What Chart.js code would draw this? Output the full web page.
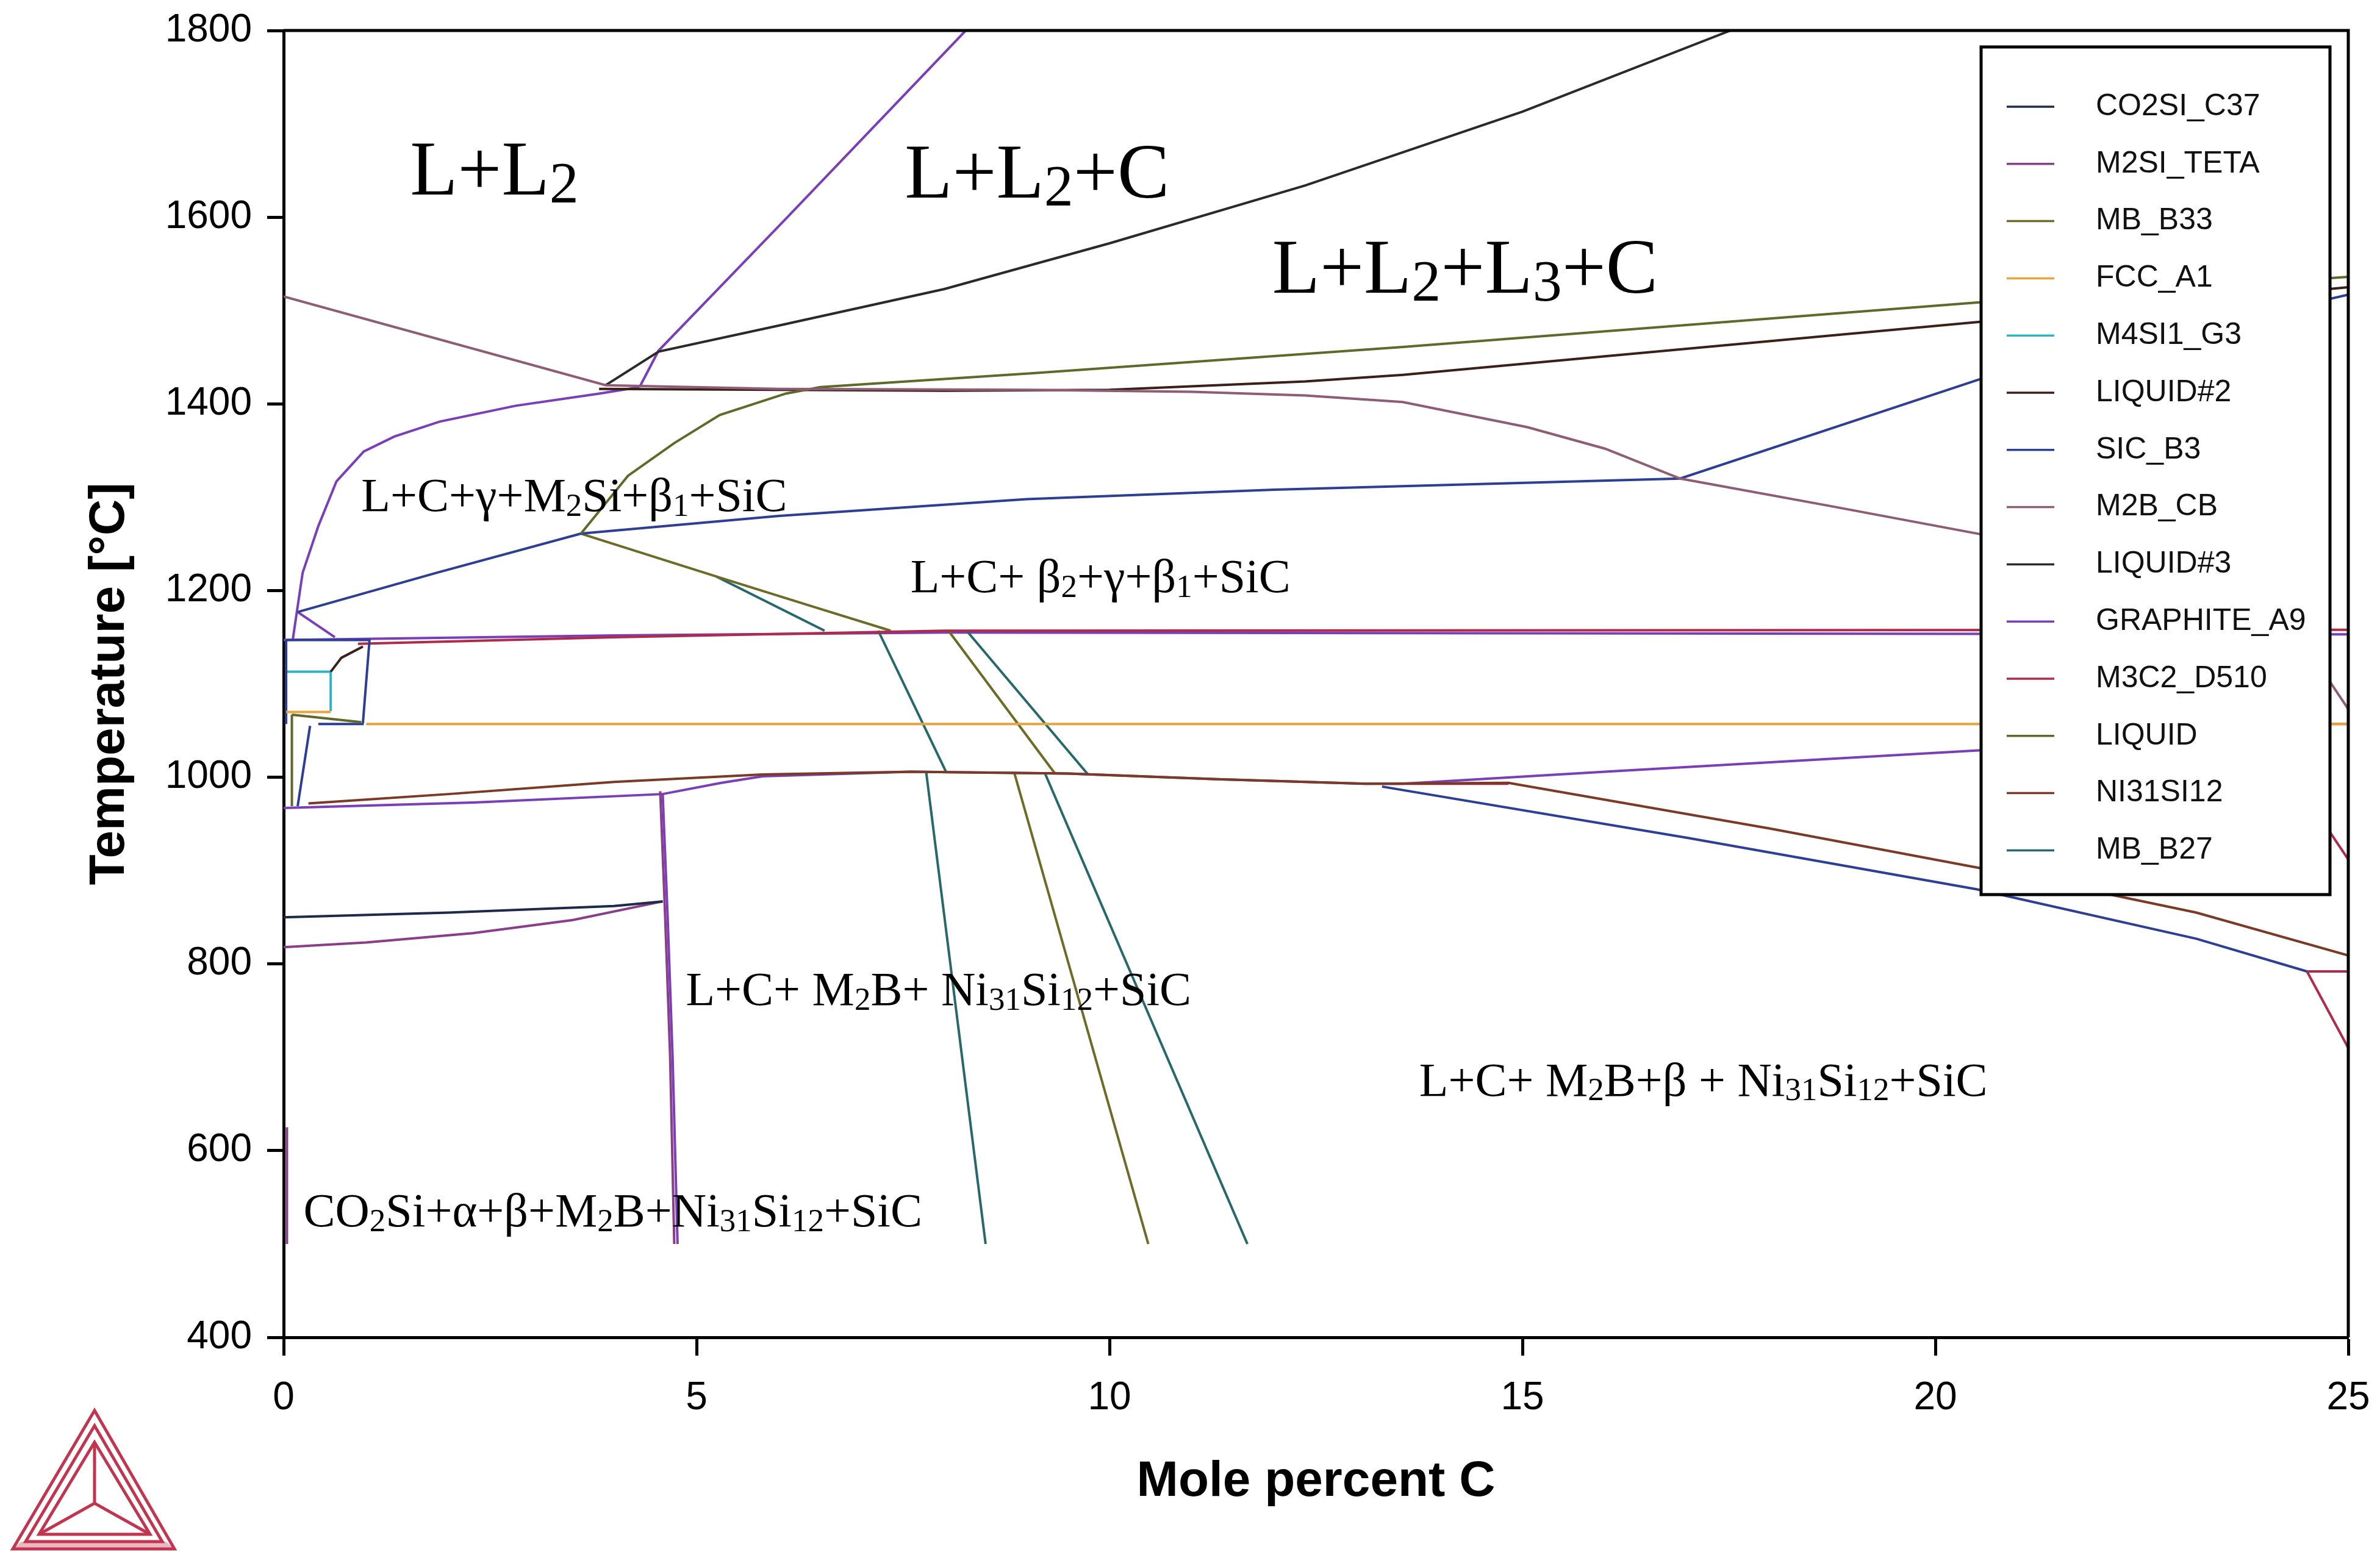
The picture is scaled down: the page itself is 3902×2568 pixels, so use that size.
<!DOCTYPE html>
<html>
<head>
<meta charset="utf-8">
<script src="https://cdn.jsdelivr.net/npm/chart.js@4.4.1/dist/chart.umd.min.js"></script>
<style>
  html, body { margin: 0; padding: 0; background: #fff; }
  canvas { display: block; }
</style>
</head>
<body>
<canvas id="phaseChart" width="3902" height="2568"></canvas>
<script>
// axis ticks
const xTicks = [0, 5, 10, 15, 20, 25];
const yTicks = [400, 600, 800, 1000, 1200, 1400, 1600, 1800];

// phase boundaries, [mole percent C, temperature °C]
// GRAPHITE_A9
const graphiteSteep = [[4.31, 1418], [4.54, 1457], [6.1, 1600], [8.26, 1800]];
const graphiteCurve = [[0.11, 1147], [0.18, 1189], [0.23, 1219], [0.42, 1269], [0.64, 1317], [0.97, 1349], [1.34, 1365], [1.89, 1381], [2.81, 1398], [3.82, 1411], [4.31, 1418]];
const graphiteShort = [[0.17, 1177], [0.62, 1150]];
const graphite1150 = [[0, 1147], [4, 1152], [8, 1155], [25, 1153]];
const graphiteLow = [[0, 967], [2.3, 973], [4.59, 982], [5.3, 994], [5.8, 1001], [7.6, 1006], [9.5, 1004], [11.3, 998], [13.1, 993], [13.55, 993], [16, 1006], [20.56, 1029], [24, 1046]];
const graphiteVert = [[4.59, 982], [4.65, 850], [4.71, 700], [4.77, 500]];
// M2SI_TETA
const m2siCurve = [[0, 818], [1, 823], [2.29, 833], [3.5, 847], [4.59, 867]];
const m2siVert = [[4.56, 985], [4.62, 850], [4.68, 700], [4.73, 500]];
// CO2SI_C37
const co2siLine = [[0, 850], [2, 855], [4, 862], [4.59, 867]];
const co2siEdge = [[0.04, 625], [0.04, 500]];
// MB_B33
const mbB33Upper = [[3.6, 1261], [5.24, 1215], [6.4, 1183], [7.35, 1157]];
const mbB33Mid = [[8.05, 1157], [9.34, 1004]];
const mbB33Low = [[8.85, 1004], [10.47, 500]];
// LIQUID
const liquidLine = [[3.6, 1261], [4.17, 1323], [4.73, 1358], [5.28, 1388], [6.08, 1411], [6.5, 1418], [9.1, 1433], [13.55, 1461], [20.56, 1509], [25, 1536]];
const liquidBoxA = [[0.1, 1067], [0.94, 1059]];
const liquidBoxB = [[0.1, 1067], [0.1, 969]];
// FCC_A1
const fccLine = [[1.0, 1057], [25, 1057]];
const fccShort = [[0.03, 1070], [0.57, 1070]];
// M4SI1_G3
const m4siBox = [[0.03, 1113], [0.57, 1113], [0.57, 1071]];
// LIQUID#2
const liquid2Line = [[3.82, 1416], [6, 1415], [8, 1414], [10, 1415], [12.37, 1424], [13.55, 1431], [16, 1451], [20.56, 1488], [25, 1525]];
const liquid2Box = [[0.57, 1113], [0.7, 1128], [0.96, 1140]];
// SIC_B3
const sicUpper = [[0.17, 1177], [1.85, 1219], [3.6, 1261], [6, 1280], [9, 1298], [12, 1308], [16.91, 1320], [20.56, 1427], [25, 1517]];
const sicLower = [[13.3, 990], [17, 935], [20.5, 880], [23.16, 827], [24.5, 792]];
const sicBoxTop = [[0.03, 1147], [1.04, 1147], [0.96, 1058]];
const sicBoxLeft = [[0.03, 1147], [0.03, 1057]];
const sicBoxBottom = [[0.42, 1057], [0.97, 1057]];
const sicBoxLow = [[0.32, 1055], [0.17, 969]];
// M2B_CB
const m2bLine = [[0, 1515], [3.9, 1420], [6, 1416], [9, 1415], [11, 1413], [12.37, 1409], [13.55, 1402], [15.06, 1375], [16, 1352], [16.91, 1320], [18.7, 1291], [20.57, 1260], [22.5, 1215], [24, 1150], [24.78, 1102], [25, 1073]];
// LIQUID#3
const liquid3Curve = [[3.9, 1420], [4.54, 1456], [6, 1484], [8, 1523], [10, 1572], [12.37, 1634], [15, 1713], [17.52, 1800]];
// M3C2_D510
const m3c2Upper = [[0.9, 1143], [4, 1150], [8, 1157], [25, 1158]];
const m3c2Mid = [[13.3, 993], [14.83, 993]];
const m3c2Edge = [[23.9, 1057], [25, 912]];
const m3c2Fcc = [[23.9, 1057], [25, 1057]];
const m3c2Flat = [[24.5, 792], [25, 792]];
const m3c2Drop = [[24.5, 792], [25, 710]];
// NI31SI12
const ni31Line = [[0.3, 972], [2, 982], [4, 995], [5.8, 1003], [7.6, 1006], [9.5, 1004], [11.3, 998], [13.1, 993], [14.83, 994], [18, 945], [21, 895], [23.16, 855], [25, 809]];
// MB_B27
const mbB27a = [[5.24, 1215], [6.55, 1157]];
const mbB27b = [[7.2, 1157], [8.02, 1006]];
const mbB27c = [[7.78, 1006], [8.5, 500]];
const mbB27d = [[8.27, 1157], [9.74, 1003]];
const mbB27e = [[9.22, 1004], [11.67, 500]];

const phases = ['CO2SI_C37', 'M2SI_TETA', 'MB_B33', 'FCC_A1', 'M4SI1_G3', 'LIQUID#2', 'SIC_B3',
  'M2B_CB', 'LIQUID#3', 'GRAPHITE_A9', 'M3C2_D510', 'LIQUID', 'NI31SI12', 'MB_B27'];

const phaseColors = {
  'CO2SI_C37': '#1e2a4a',
  'M2SI_TETA': '#8a3e8a',
  'MB_B33': '#6e6a28',
  'FCC_A1': '#e8a33c',
  'M4SI1_G3': '#2fb3c4',
  'LIQUID#2': '#3a2018',
  'SIC_B3': '#2c3f94',
  'M2B_CB': '#8e5c74',
  'LIQUID#3': '#2a2a2a',
  'GRAPHITE_A9': '#7a3fb8',
  'M3C2_D510': '#b02a4a',
  'LIQUID': '#5f6a2a',
  'NI31SI12': '#7a3a26',
  'MB_B27': '#27686c'
};

const segments = [
  ['FCC_A1', fccLine], ['FCC_A1', fccShort],
  ['M2B_CB', m2bLine],
  ['LIQUID', liquidLine], ['LIQUID', liquidBoxA], ['LIQUID', liquidBoxB],
  ['LIQUID#2', liquid2Line], ['LIQUID#2', liquid2Box],
  ['LIQUID#3', liquid3Curve],
  ['SIC_B3', sicUpper], ['SIC_B3', sicLower], ['SIC_B3', sicBoxTop], ['SIC_B3', sicBoxLeft],
  ['SIC_B3', sicBoxBottom], ['SIC_B3', sicBoxLow],
  ['NI31SI12', ni31Line],
  ['M3C2_D510', m3c2Upper], ['M3C2_D510', m3c2Mid], ['M3C2_D510', m3c2Edge], ['M3C2_D510', m3c2Fcc],
  ['M3C2_D510', m3c2Flat], ['M3C2_D510', m3c2Drop],
  ['M4SI1_G3', m4siBox],
  ['MB_B33', mbB33Upper], ['MB_B33', mbB33Mid], ['MB_B33', mbB33Low],
  ['MB_B27', mbB27a], ['MB_B27', mbB27b], ['MB_B27', mbB27c], ['MB_B27', mbB27d], ['MB_B27', mbB27e],
  ['CO2SI_C37', co2siLine], ['M2SI_TETA', co2siEdge],
  ['M2SI_TETA', m2siCurve], ['M2SI_TETA', m2siVert],
  ['GRAPHITE_A9', graphiteSteep], ['GRAPHITE_A9', graphiteCurve], ['GRAPHITE_A9', graphiteShort],
  ['GRAPHITE_A9', graphite1150], ['GRAPHITE_A9', graphiteLow], ['GRAPHITE_A9', graphiteVert]
];

// phase-region labels: [text, subscript?] parts
const regionLabels = [
  { x: 1.53, y: 1624, big: true, parts: [['L+L', 0], ['2', 1]] },
  { x: 7.52, y: 1621, big: true, parts: [['L+L', 0], ['2', 1], ['+C', 0]] },
  { x: 11.97, y: 1519, big: true, parts: [['L+L', 0], ['2', 1], ['+L', 0], ['3', 1], ['+C', 0]] },
  { x: 0.94, y: 1285, parts: [['L+C+γ+M', 0], ['2', 1], ['Si+β', 0], ['1', 1], ['+SiC', 0]] },
  { x: 7.59, y: 1198, parts: [['L+C+ β', 0], ['2', 1], ['+γ+β', 0], ['1', 1], ['+SiC', 0]] },
  { x: 4.87, y: 756, parts: [['L+C+ M', 0], ['2', 1], ['B+ Ni', 0], ['31', 1], ['Si', 0], ['12', 1], ['+SiC', 0]] },
  { x: 13.75, y: 659, parts: [['L+C+ M', 0], ['2', 1], ['B+β + Ni', 0], ['31', 1], ['Si', 0], ['12', 1], ['+SiC', 0]] },
  { x: 0.24, y: 519, parts: [['CO', 0], ['2', 1], ['Si+α+β+M', 0], ['2', 1], ['B+Ni', 0], ['31', 1], ['Si', 0], ['12', 1], ['+SiC', 0]] }
];

const sansFont = '"Liberation Sans", Arial, sans-serif';
const serifFont = '"Liberation Serif", "Times New Roman", serif';

const datasets = segments.map(([phase, pts]) => ({
  label: phase,
  data: pts.map(([x, y]) => ({ x, y })),
  borderColor: phaseColors[phase],
  borderWidth: 4,
  pointRadius: 0,
  tension: 0,
  fill: false
}));

function drawRich(ctx, x, y, parts, size, subScale) {
  let cx = x;
  for (const [text, sub] of parts) {
    const s = sub ? size * subScale : size;
    ctx.font = s + 'px ' + serifFont;
    ctx.fillText(text, cx, y + (sub ? size * 0.1 : 0));
    cx += ctx.measureText(text).width;
  }
}

const decorations = {
  id: 'decorations',
  beforeDraw(chart) {
    const ctx = chart.ctx;
    ctx.save();
    ctx.fillStyle = '#fff';
    ctx.fillRect(0, 0, chart.width, chart.height);
    ctx.restore();
  },
  afterDatasetsDraw(chart) {
    const { ctx, chartArea: a, scales: { x, y } } = chart;
    ctx.save();
    // region labels
    ctx.fillStyle = '#000';
    ctx.textAlign = 'left';
    ctx.textBaseline = 'alphabetic';
    for (const lab of regionLabels) {
      drawRich(ctx, x.getPixelForValue(lab.x), y.getPixelForValue(lab.y), lab.parts,
        lab.big ? 128 : 78, lab.big ? 0.75 : 0.68);
    }
    // top and right frame
    ctx.strokeStyle = '#000';
    ctx.lineWidth = 5;
    ctx.beginPath();
    ctx.moveTo(a.left, a.top);
    ctx.lineTo(a.right, a.top);
    ctx.lineTo(a.right, a.bottom);
    ctx.stroke();
    // legend box
    const lx = 3248, ly = 77, lw = 572, lh = 1390;
    ctx.fillStyle = '#fff';
    ctx.fillRect(lx, ly, lw, lh);
    ctx.lineWidth = 5;
    ctx.strokeRect(lx, ly, lw, lh);
    ctx.font = '50px ' + sansFont;
    ctx.textBaseline = 'middle';
    phases.forEach((p, i) => {
      const ry = 175 + i * 93.8;
      ctx.strokeStyle = phaseColors[p];
      ctx.lineWidth = 3.5;
      ctx.beginPath();
      ctx.moveTo(3290, ry);
      ctx.lineTo(3368, ry);
      ctx.stroke();
      ctx.fillStyle = '#111';
      ctx.fillText(p, 3436, ry);
    });
    // logo
    ctx.strokeStyle = '#c2354f';
    ctx.lineWidth = 5;
    const tri = (p) => {
      ctx.beginPath();
      ctx.moveTo(p[0][0], p[0][1]);
      ctx.lineTo(p[1][0], p[1][1]);
      ctx.lineTo(p[2][0], p[2][1]);
      ctx.closePath();
      ctx.stroke();
    };
    ctx.fillStyle = 'rgba(194,53,79,0.35)';
    ctx.beginPath();
    ctx.moveTo(21, 2540); ctx.lineTo(286, 2540); ctx.lineTo(272, 2528); ctx.lineTo(35, 2528);
    ctx.closePath();
    ctx.fill();
    tri([[155, 2313], [21, 2540], [286, 2540]]);
    tri([[155, 2338], [42, 2528], [266, 2528]]);
    tri([[155, 2365], [64, 2516], [246, 2516]]);
    ctx.beginPath();
    ctx.moveTo(155, 2365); ctx.lineTo(155, 2465);
    ctx.moveTo(64, 2516); ctx.lineTo(155, 2465); ctx.lineTo(246, 2516);
    ctx.stroke();
    ctx.restore();
  }
};

new Chart(document.getElementById('phaseChart'), {
  type: 'line',
  data: { datasets },
  options: {
    responsive: false,
    devicePixelRatio: 1,
    animation: false,
    layout: { padding: { top: 50, right: 52, left: 0, bottom: 0 } },
    plugins: { legend: { display: false }, tooltip: { enabled: false } },
    scales: {
      x: {
        type: 'linear',
        min: 0,
        max: 25,
        afterFit: (s) => { s.height = 375; s.paddingLeft = 0; s.paddingRight = 0; },
        afterBuildTicks: (s) => { s.ticks = xTicks.map(v => ({ value: v })); },
        ticks: { color: '#000', font: { size: 64, family: sansFont }, padding: 32, maxRotation: 0,
          callback: (v) => String(v) },
        grid: { drawOnChartArea: false, tickLength: 30, tickWidth: 5, tickColor: '#000' },
        border: { color: '#000', width: 5 },
        title: { display: true, text: 'Mole percent C', color: '#000', font: { size: 82, weight: 'bold', family: sansFont }, padding: { bottom: 88, top: 0 } }
      },
      y: {
        type: 'linear',
        min: 400,
        max: 1800,
        afterFit: (s) => { s.width = 465; s.paddingTop = 0; s.paddingBottom = 0; },
        afterBuildTicks: (s) => { s.ticks = yTicks.map(v => ({ value: v })); },
        ticks: { color: '#000', font: { size: 64, family: sansFont }, padding: 25,
          callback: (v) => String(v) },
        grid: { drawOnChartArea: false, tickLength: 27, tickWidth: 5, tickColor: '#000' },
        border: { color: '#000', width: 5 },
        title: { display: true, text: 'Temperature [°C]', color: '#000', font: { size: 82, weight: 'bold', family: sansFont }, padding: { top: 131, bottom: 0 } }
      }
    }
  },
  plugins: [decorations]
});
</script>
</body>
</html>
